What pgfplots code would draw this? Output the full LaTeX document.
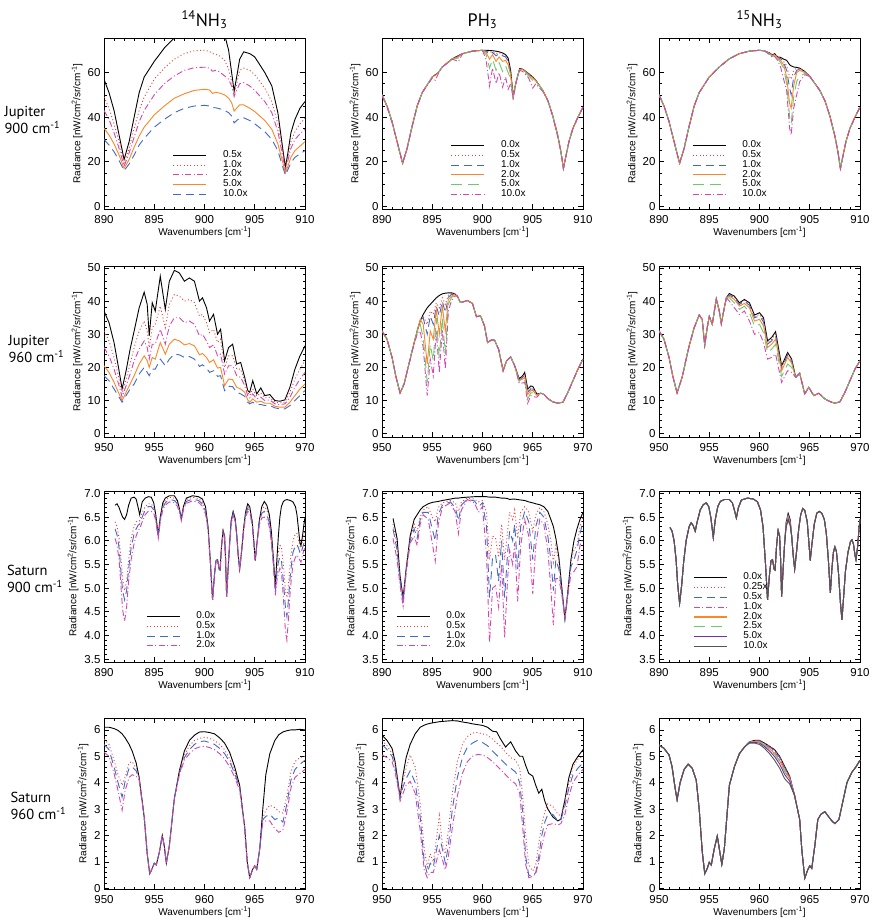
\documentclass[border=0pt]{standalone}
\usepackage{pgfplots}
\pgfplotsset{compat=1.18}
\usepackage{pgfplotstable}
\usepackage{fontspec}
\setmainfont{Liberation Sans}
\newfontfamily\labfont{PT Sans}

\definecolor{cRed}{RGB}{238,60,60}
\definecolor{cBlue}{RGB}{65,105,200}
\definecolor{cMag}{RGB}{215,70,175}
\definecolor{cOrange}{RGB}{250,135,40}
\definecolor{cGreen}{RGB}{110,200,110}
\definecolor{cPurple}{RGB}{110,50,170}
\definecolor{cGray}{RGB}{85,85,85}

\tikzset{
 sK/.style={black,solid,line width=0.9pt},
 sR/.style={cRed,line width=0.9pt,dash pattern=on 1pt off 2.4pt},
 sB/.style={cBlue,line width=0.9pt,dash pattern=on 8pt off 5pt},
 sM/.style={cMag,line width=0.9pt,dash pattern=on 6pt off 2.5pt on 1pt off 2.5pt},
 sO/.style={cOrange,solid,line width=0.9pt},
 sG/.style={cGreen,line width=0.9pt,dash pattern=on 11pt off 6pt},
 sP/.style={cPurple,solid,line width=0.9pt},
 sY/.style={cGray,solid,line width=0.9pt},
}

\pgfplotsset{
 panel/.style={
  scale only axis, width=201pt, height=171pt, anchor=north west,
  tick align=inside, xtick pos=both, ytick pos=both,
  major tick length=5pt, minor tick length=2.5pt,
  every tick/.style={black, line width=0.6pt},
  axis line style={line width=0.8pt},
  /pgf/number format/assume math mode=true,
  tick label style={font=\fontsize{11.5}{13}\selectfont},
  xticklabel style={yshift=-3pt},
  xlabel={Wavenumbers [cm\textsuperscript{-1}]},
  ylabel={Radiance [nW/cm\textsuperscript{2}/sr/cm\textsuperscript{-1}]},
  label style={font=\fontsize{10.7}{12}\selectfont},
  every axis x label/.style={at={(axis description cs:0.5,-0.134)},anchor=center},
  every axis y label/.style={at={(axis description cs:-0.134,0.5)},anchor=center,rotate=90},
  minor x tick num=4,
  legend cell align=left,
  legend image code/.code={\draw[##1, line width=1.1pt] (0pt,0pt) -- (33pt,0pt);},
  legend style={draw=none, fill=none, inner sep=0pt, row sep=0pt, column sep=16pt,
    font=\fontsize{10}{10}\selectfont, anchor=north west,
    nodes={inner sep=0pt, text height=7pt, text depth=2.8pt}},
 },
 xa/.style={xmin=890,xmax=910,xtick={890,895,...,910}},
 xb/.style={xmin=950,xmax=970,xtick={950,955,...,970}},
 r1/.style={ymin=-1.2,ymax=75.5,ytick={0,20,40,60},minor y tick num=3},
 r2/.style={ymin=-1,ymax=50.6,ytick={0,10,...,50},minor y tick num=4},
 r3/.style={ymin=3.44,ymax=7.05,ytick={3.5,4.0,4.5,5.0,5.5,6.0,6.5,7.0},minor y tick num=4,
   yticklabel style={/pgf/number format/.cd,fixed,fixed zerofill,precision=1},
   every axis y label/.append style={at={(axis description cs:-0.154,0.5)}}},
 r4/.style={ymin=-0.03,ymax=6.45,ytick={0,1,...,6},minor y tick num=4,
   every axis y label/.append style={at={(axis description cs:-0.104,0.5)}}},
}

% base + region + base
\newcommand{\brplot}[6]{%
  \addplot[#1, restrict x to domain=800:#5] table[x=x,y=b]{#2};
  \addplot[#1, forget plot] table[x=x,y=#4]{#3};
  \addplot[#1, forget plot, restrict x to domain=#6:1100] table[x=x,y=b]{#2};
}

\begin{document}

% ---------------- Row 1: Jupiter 900 ----------------
\pgfplotstableread{
x k05 k1 k2 k5 k10
890.0 57 49 43 35 30
890.5 51 44 39 32 27.5
891.0 43 37 33 28 24.5
891.5 32 29 26 23 20.5
892.0 21 19.5 18 17 16
892.5 29 26 24 21 19
893.0 40 35 31 26.5 23
893.5 51 43 38 31.5 27.5
894.0 58 49 43 35.5 30.5
895.0 65 57 50 41 35.5
896.0 71 62 55 45 39
897.0 75.5 66 58.5 48.5 42
898.0 79 68.5 61 50.5 44
899.0 81 69.8 62.2 52 45
900.0 82 70 62.4 52.5 45.3
900.5 78 69.5 62 52.2 45
900.8 74.5 68.5 60.6 50.6 44.3
901.1 78 68.2 61 51.2 44.2
901.5 79 67.5 60.3 50.8 43.8
902.0 77 65.5 58.5 50 43
902.4 70 61.5 57 48.5 42
902.7 60 56 54 46.5 40.5
902.95 51.6 49.5 49.5 42.7 37.4
903.2 58 55 52 44 38.5
903.5 66 61 55 45.5 39.5
903.9 69.3 62 55.5 45.5 39.7
904.5 68.5 61 54 44 38.5
905.0 67 59 52 42.5 37
906.0 60 53 47 38.5 33.5
906.7 54 47 42 34.5 30
907.3 42 37 33.5 28 25
907.8 25.4 24 22 19.5 17.5
908.05 17.5 16.5 16 15 14
908.3 24 22 20.5 18 16.5
908.6 33 29 26 22 19.5
909.0 39 33.5 30 25 22
909.5 44 37 32.5 27 23.5
910.0 47 39.5 34.5 29 25
}\tA

\pgfplotstableread{
x p0 p05 p1 p2 p5 p10
890.0 50 50 50 50 50 49.5
890.5 45 45 45 45 45 44.5
891.0 38 38 38 38 38 37.5
891.5 29 29 29 29 29 29
892.05 19.3 19.3 19.3 19.3 19.3 19.3
892.5 26 26 26 26 26 26
893.0 36 36 36 36 36 36
893.5 45 45 45 45 45 45
894.0 51 51 51 51 51 51
895.0 58 58 58 58 58 57.5
895.3 59 59 59 58.7 58.3 56.5
895.6 60 60 60 60 60 59.5
896.0 62.5 62.5 62.5 62.5 62.5 62.5
897.0 66.2 66.2 66.2 66.2 66 66
897.6 67.6 67.5 67.3 67 66.5 65
898.0 68.5 68.5 68.5 68.5 68.5 68.3
899.0 69.6 69.6 69.6 69.6 69.6 69.6
900.0 70 70 70 70 70 69.8
900.35 70 69.8 69.5 69 68 66
900.7 69.9 69 68 66 62 54
901.0 69.8 69.5 69 68 66 62
901.35 69.6 68.5 67.5 65 61 55
901.65 69.3 69 68.5 67 64.5 60
902.0 68.8 68 67.5 65 60.5 53.5
902.3 68 67.5 67 65.5 63 58
902.55 66.5 65.5 65 63.5 60 52.5
902.8 61 60 59.5 59 57 55
903.05 49.5 49.3 49 49 48.7 48.5
903.35 56 56 56 56 56 55.5
903.7 61.8 61.8 61.7 61.5 61.3 61
904.0 61.5 61.5 61.5 61.3 61 60.5
904.6 59.5 59.5 59.3 59 58.5 57.5
905.0 58 58 57.8 57.5 56.5 53
905.3 56.5 56.5 56.5 56.3 56 55
906.0 52 52 52 52 52 51.5
906.5 47.5 47.5 47.5 47.5 47.5 47.5
907.0 40.5 40.5 40.5 40.5 40.5 40
907.5 31.5 31.5 31.5 31.5 31.5 31
907.8 24.5 24.5 24.5 24.5 24.5 24.5
908.05 17 17 17 17 17 17
908.3 22.5 22.5 22.5 22.5 22.5 22.5
908.6 29 29 29 29 29 29
909.0 35 35 35 35 35 35
909.5 40 40 40 40 40 40
910.0 44.5 44.5 44.5 44.5 44.5 44.5
}\tB

\pgfplotstableread{
x b
890.0 50
890.5 45
891.0 38
891.5 29
892.05 19.3
892.5 26
893.0 36
893.5 45
894.0 51
895.0 58
896.0 62.5
897.0 66.2
898.0 68.5
899.0 69.6
900.0 70
900.5 69.7
905.0 58.3
906.0 52
906.5 47.5
907.0 40.5
907.5 31.5
907.8 24.5
908.05 17
908.3 22.5
908.6 29
909.0 35
909.5 40
910.0 44.5
}\tCb
\pgfplotstableread{
x c0 c05 c1 c2 c5 c10
900.5 69.7 69.7 69.7 69.7 69.7 69.7
901.0 68.8 68.8 68.6 68.5 68.3 68
901.3 67.8 67.8 67.6 67.4 67.2 66.8
901.5 68.5 68.4 68.2 68 67.8 67.3
901.8 67 66.9 66.7 66.5 66.2 65.5
902.1 66.8 66.5 66.2 65.5 64.5 62.5
902.4 66 65 64.5 63.5 62 57
902.7 65.5 63 61 58 55 52
903.0 63.5 58 53 46 40 35
903.15 63 57 50 44 37 32
903.4 62.5 61 58 54 49 44
903.7 62.3 62 61 60 56 50
904.0 62 61.8 61.5 61 58.5 56
904.5 60.5 60.4 60.3 60 59.5 59
905.0 58.3 58.3 58.3 58.3 58.3 58.3
}\tCr

% ---------------- Row 2: Jupiter 960 ----------------
\pgfplotstableread{
x k05 k1 k2 k5 k10
950.0 37 31 26 20.5 17.5
950.5 33.5 28 23.5 18.5 16
951.0 27.5 23 19.5 15.5 13.5
951.5 19 16.5 14.5 12 11
951.8 13.5 12 11 10 9.5
952.2 19 16.5 14.5 12.5 11.5
952.6 25.5 21 18 15 13.5
953.0 31 26 22 17.5 15
953.5 38 31 25.5 21 18
954.0 42.7 34 28 23.5 20
954.3 39 31 26 22 18.5
954.5 29.5 26 22.5 20 17.5
954.8 39.5 32 27 23 19.5
955.1 37 33 27 22.5 19.5
955.6 47.5 38.5 31.5 27.5 22.5
956.1 37.5 32 27 24 20.5
956.5 46 39 32.5 27 22.5
957.0 49.3 42 35 28.5 24
957.5 48.5 41.5 35 28 23.8
958.0 46 40 33.5 26.8 23
958.5 47 40.5 34 27.2 23.3
959.0 46 39.5 33 26.5 22.5
959.5 40 35.5 29.5 23.8 20.3
959.8 41 36 30 24.2 20.8
960.2 38 33.5 28 23 19.8
960.5 34 30.5 26 21.5 18.5
960.9 36 31.5 26.8 22.3 19
961.3 30 27.5 23.5 19.8 17.3
961.6 31.5 28.5 24 20 17.5
962.0 22 20 18 14.5 13
962.4 26 23.5 20.5 16.5 14.3
962.8 27 23.5 20.5 16.3 14.2
963.2 21 19.5 17.5 14 12.5
963.6 21.5 19.5 17 13.5 12
964.0 17 16 14.5 12.5 11.3
964.3 13 12.5 11.5 10.2 9.5
964.5 12.5 11.5 10.8 9.5 9
964.8 16 13.5 12 10.5 9.5
965.2 12 11.3 10.5 9.5 8.8
965.6 13.8 12.3 11 9.8 8.8
966.0 11.5 10.8 10 9.2 8.5
966.5 11.8 11 10.2 9.2 8.5
967.0 10 9.5 9 8.3 7.8
967.5 9.8 9.3 8.8 8 7.5
968.0 10.2 9.5 9 8 7.5
968.5 14 12.5 11 9.5 8.5
969.0 19.5 16.5 14 11.5 10
969.5 23.5 19.5 16.5 13.5 11.5
970.0 26.5 22 18.5 15 13
}\tD

\pgfplotstableread{
x p0 p05 p1 p2 p5 p10
950.0 31 31 31 31 31 31
950.5 28.5 28.5 28.5 28.5 28.5 28.5
951.0 23 23 23 23 23 23
951.4 17 17 17 17 17 17
951.8 12.3 12.3 12.3 12.3 12.3 12.3
952.2 15 15 15 15 15 15
952.6 20 20 20 20 20 20
953.0 25 25 25 25 25 25
953.5 31 31 31 31 30.5 30
953.8 34 34 34 34.5 33 31
954.1 36 35.5 35 33 29 26
954.5 38 33 30 21 15.5 11.5
954.8 39 37 35.5 31 27 22.5
955.1 40 36 33 28.5 22 17.5
955.4 41 39.5 38.5 37.5 35 31
955.7 41.7 38 35.5 30 23 18.5
956.0 42.2 41 40 38.5 35 31.5
956.3 42.4 39 36.5 31 24 19.5
956.6 42.5 41.8 41.2 40.5 39 37
956.9 42.5 42.3 42 41.5 41 40
957.2 42.3 42.2 42.1 42 41.8 41.5
957.5 41.5 41.5 41.5 41.5 41.5 41.5
957.8 39.6 39.6 39.6 39.6 39.6 39.6
958.1 39.8 39.8 39.8 39.8 39.8 39.8
958.5 40.2 40.2 40.2 40.2 40.2 40.2
959.0 39.3 39.3 39.3 39.3 39.3 39.3
959.4 35.3 35.3 35.3 35.3 35.3 35.3
959.8 35.6 35.6 35.6 35.6 35.6 35.6
960.2 32.5 32.5 32.5 32.5 32.5 32.5
960.5 27.5 27.5 27.5 27.5 27.5 27.5
960.9 28.3 28.3 28.3 28.3 28.3 28.3
961.2 28.2 28.2 28.2 28.2 28.2 28.2
961.6 25.5 25.5 25.5 25.5 25.5 25.5
962.05 19 19 19 19 19 19
962.4 22 22 22 22 22 22
962.8 23.2 23.2 23.2 23.2 23.2 23.2
963.2 20.5 20.5 20.5 20.5 20.5 20.5
963.65 16.6 16.4 16.2 16 15.6 15.2
964.0 17.5 17.3 17 16.5 16 15.3
964.2 18.5 17.8 17.5 17 16.3 15.5
964.5 13.5 13 12.5 11.8 10.5 9.2
964.8 14.4 13.8 13.5 13 12.3 11.5
965.0 14.3 13.9 13.5 13 12.3 11.2
965.4 12 12 11.8 11.6 11.3 11
965.8 12.2 12.2 12.2 12.2 12.2 12.2
966.1 11.9 11.9 11.9 11.9 11.9 11.9
966.5 10.6 10.6 10.6 10.6 10.6 10.6
967.0 9.6 9.6 9.6 9.6 9.6 9.6
967.5 9.2 9.2 9.2 9.2 9.2 9.2
968.0 9.5 9.5 9.5 9.5 9.5 9.5
968.5 12.5 12.5 12.5 12.5 12.5 12.5
969.0 16 16 16 16 16 16
969.5 19.5 19.5 19.5 19.5 19.5 19.5
970.0 22.5 22.5 22.5 22.5 22.5 22.5
}\tE

\pgfplotstableread{
x b
950.0 31
950.5 28.5
951.0 23
951.4 17
951.8 12.3
952.3 17
952.7 22.5
953.0 26.5
953.5 32
954.0 35.8
954.3 34.5
954.55 26.7
954.8 32
955.0 35.4
955.3 33
955.7 40.7
956.0 37
956.2 33.2
956.5 38
956.7 41
963.6 17
964.0 18.2
964.5 12
964.9 14
965.4 11.5
965.9 12.2
966.5 10.5
967.0 9.7
967.5 9.2
968.0 9.6
968.5 12.5
969.0 16
969.5 19.5
970.0 22
}\tFb
\pgfplotstableread{
x c0 c05 c1 c2 c5 c10
956.7 41 41 41 41 41 41
957.0 42.3 42 41.8 41.5 41 40
957.5 41.5 41.2 41 40.5 39.5 38
958.0 39.5 39.2 39 38.5 37.5 36
958.5 40.5 40.2 40 39.3 38.5 37
959.0 39.5 39 38.7 38 36.5 34
959.5 35.8 35.3 35 34 32.5 30
960.0 36.5 36 35.5 34.5 33 30.5
960.4 35 34.2 33.7 32.5 30.5 27.5
960.8 28 27.3 27 26 24.5 22.5
961.2 29 28.5 28 27 25.5 23
961.6 30.8 30 29.5 28.5 27 24
962.2 20.5 20 19.8 19 17.3 15.5
962.8 24.5 24 23.7 23 21 19
963.2 22.5 22 21.8 21.3 20 18.5
963.6 17 17 17 17 17 17
}\tFr

% ---------------- Row 3: Saturn 900 ----------------
\pgfplotstableread{
x s0 s05 s1 s2
891.1 6.75 6.4 6.25 6.05
891.3 6.78 6.3 6.12 5.9
891.5 6.7 6.05 5.85 5.6
891.7 6.58 5.6 5.3 5.0
891.85 6.5 5.2 4.95 4.55
892.05 6.45 4.95 4.75 4.3
892.25 6.55 5.15 4.95 4.6
892.45 6.75 5.6 5.4 5.15
892.7 6.9 6.05 5.85 5.6
893.0 6.92 6.3 6.15 5.95
893.2 6.88 6.4 6.25 6.1
893.4 6.7 6.42 6.33 6.22
893.55 6.55 6.42 6.35 6.25
893.8 6.82 6.6 6.5 6.4
894.1 6.9 6.72 6.65 6.55
894.4 6.93 6.78 6.72 6.62
894.7 6.92 6.78 6.72 6.62
894.95 6.8 6.7 6.65 6.58
895.15 6.55 6.5 6.47 6.42
895.4 6.12 6.1 6.08 6.05
895.6 6.5 6.47 6.45 6.4
895.85 6.8 6.75 6.7 6.65
896.1 6.9 6.85 6.8 6.75
896.5 6.95 6.92 6.87 6.82
897.0 6.95 6.9 6.85 6.8
897.3 6.85 6.82 6.78 6.73
897.5 6.68 6.66 6.64 6.6
897.7 6.47 6.46 6.45 6.42
897.9 6.72 6.7 6.68 6.65
898.2 6.9 6.87 6.83 6.79
898.8 6.95 6.92 6.88 6.84
899.4 6.93 6.89 6.85 6.81
899.8 6.88 6.82 6.78 6.73
900.1 6.72 6.66 6.62 6.56
900.35 6.3 6.28 6.26 6.24
900.6 5.5 5.5 5.5 5.5
900.8 4.75 4.75 4.75 4.75
901.0 5.3 5.3 5.3 5.3
901.15 5.58 5.58 5.58 5.58
901.3 5.6 5.6 5.6 5.6
901.45 5.4 5.4 5.4 5.4
901.55 5.38 5.38 5.38 5.38
901.7 5.9 5.9 5.9 5.9
901.85 6.22 6.2 6.18 6.15
902.0 6.1 6.1 6.08 6.05
902.1 5.6 5.6 5.6 5.6
902.2 4.82 4.82 4.82 4.82
902.35 5.4 5.4 5.4 5.4
902.5 5.95 5.95 5.93 5.9
902.65 6.42 6.4 6.38 6.35
902.85 6.62 6.6 6.58 6.55
903.05 6.47 6.45 6.43 6.4
903.2 6.15 6.15 6.13 6.1
903.35 5.7 5.7 5.7 5.7
903.5 5.4 5.4 5.4 5.4
903.7 5.8 5.8 5.8 5.78
903.9 6.28 6.26 6.24 6.2
904.1 6.62 6.6 6.56 6.5
904.3 6.78 6.73 6.68 6.62
904.5 6.72 6.68 6.63 6.58
904.75 6.4 6.38 6.36 6.33
904.9 6.0 6.0 6.0 6.0
905.05 5.58 5.58 5.58 5.58
905.2 5.9 5.9 5.9 5.9
905.45 6.42 6.4 6.37 6.33
905.7 6.72 6.66 6.58 6.48
905.95 6.83 6.72 6.62 6.5
906.2 6.75 6.65 6.55 6.45
906.45 6.55 6.45 6.38 6.3
906.65 6.2 6.1 6.02 5.95
906.85 5.65 5.6 5.55 5.5
907.05 5.05 4.98 4.9 4.85
907.2 5.6 5.4 5.3 5.15
907.35 6.1 5.75 5.55 5.3
907.5 6.5 5.9 5.65 5.42
907.65 6.72 5.88 5.6 5.35
907.85 6.83 5.5 5.15 4.8
908.05 6.86 4.95 4.6 4.1
908.2 6.87 4.8 4.4 3.9
908.35 6.86 5.05 4.75 4.35
908.55 6.85 5.6 5.3 5.0
908.8 6.82 6.0 5.75 5.5
909.05 6.72 6.15 5.9 5.65
909.2 6.55 6.15 5.92 5.7
909.35 6.25 6.02 5.85 5.65
909.5 5.95 5.88 5.75 5.58
909.6 5.9 5.85 5.72 5.55
909.75 6.1 6.0 5.85 5.7
909.9 6.35 6.12 5.95 5.8
910.0 6.5 6.2 6.0 5.85
}\tG

\pgfplotstableread{
x q0 q05 q1 q2
891.1 6.47 6.35 6.25 6.05
891.5 6.05 5.9 5.8 5.6
891.8 5.25 5.2 5.15 5.05
892.1 4.8 4.75 4.72 4.62
892.4 5.4 5.4 5.35 5.3
892.8 6.1 6.05 6.0 5.95
893.2 6.45 6.35 6.25 6.1
893.5 6.55 6.2 6.05 5.9
893.8 6.65 6.5 6.45 6.35
894.1 6.72 6.65 6.6 6.55
894.6 6.78 6.72 6.6 6.45
895.0 6.81 6.5 6.25 5.95
895.3 6.82 6.4 6.0 5.57
895.6 6.83 6.7 6.55 6.35
896.0 6.85 6.8 6.75 6.7
896.8 6.88 6.85 6.82 6.8
897.3 6.9 6.8 6.7 6.6
897.6 6.9 6.62 6.42 6.15
897.9 6.91 6.82 6.75 6.65
898.5 6.92 6.9 6.88 6.87
899.2 6.93 6.88 6.84 6.8
899.6 6.93 6.82 6.72 6.6
900.0 6.93 6.85 6.8 6.72
900.4 6.93 6.6 6.3 5.7
900.7 6.92 5.6 4.8 3.85
901.0 6.92 6.1 5.65 5.0
901.3 6.92 6.05 5.7 5.05
901.6 6.91 5.65 5.15 4.6
901.9 6.9 6.35 6.0 5.5
902.2 6.9 5.6 4.8 3.95
902.5 6.89 6.2 5.75 5.2
902.7 6.87 6.6 6.2 5.8
903.0 6.88 6.45 6.0 5.5
903.2 6.88 6.65 6.35 5.95
903.5 6.87 6.05 5.4 4.72
903.8 6.86 6.6 6.3 5.9
904.2 6.85 6.72 6.62 6.45
904.6 6.82 6.6 6.4 6.1
905.0 6.8 6.2 5.6 4.88
905.3 6.78 6.55 6.3 5.9
905.7 6.76 6.7 6.6 6.45
906.1 6.72 6.62 6.5 6.35
906.5 6.62 6.35 6.1 5.8
906.8 6.45 6.0 5.6 5.0
907.05 6.3 5.55 4.95 4.22
907.3 6.05 5.9 5.6 5.2
907.6 5.65 5.55 5.4 5.2
907.9 5.0 4.95 4.9 4.85
908.2 4.35 4.35 4.35 4.35
908.5 4.95 4.95 4.9 4.85
908.8 5.6 5.55 5.45 5.3
909.1 6.0 5.8 5.6 5.35
909.4 6.25 5.9 5.8 5.45
909.7 6.45 6.3 6.15 5.9
910.0 6.6 6.5 6.4 6.05
}\tH

\pgfplotstableread{
x b
891.1 6.28
891.3 6.2
891.5 6.0
891.7 5.6
891.85 5.1
892.05 4.68
892.25 5.05
892.45 5.55
892.7 6.0
893.0 6.3
893.2 6.38
893.4 6.32
893.6 6.2
893.8 6.4
894.1 6.65
894.4 6.76
894.7 6.8
894.95 6.72
895.15 6.5
895.4 6.07
895.6 6.45
895.85 6.72
896.1 6.83
896.5 6.87
897.0 6.87
897.3 6.8
897.5 6.65
897.7 6.48
897.9 6.7
898.2 6.86
898.8 6.9
899.4 6.88
899.8 6.82
900.1 6.65
900.35 6.3
900.6 5.5
900.8 4.75
901.0 5.3
901.15 5.58
901.3 5.6
901.45 5.4
901.55 5.38
901.7 5.9
901.85 6.22
902.0 6.1
902.1 5.6
902.2 4.82
902.35 5.4
902.5 5.95
903.2 6.1
903.35 5.7
903.5 5.4
903.7 5.8
903.9 6.25
904.1 6.55
904.3 6.68
904.5 6.64
904.75 6.4
904.9 6.0
905.05 5.58
905.2 5.9
905.45 6.35
905.7 6.58
905.95 6.62
906.2 6.58
906.45 6.45
906.65 6.15
906.85 5.6
907.05 4.9
907.2 5.4
907.35 5.75
907.5 5.87
907.65 5.78
907.85 5.35
908.05 4.7
908.2 4.33
908.35 4.75
908.55 5.35
908.8 5.75
909.05 5.98
909.2 6.02
909.35 5.93
909.5 5.7
909.6 5.6
909.75 5.85
909.9 6.25
910.0 6.45
}\tIb
\pgfplotstableread{
x s0 s025 s05 s1 s2 s25 s5 s10
902.5 5.95 5.95 5.95 5.95 5.95 5.95 5.95 5.95
902.65 6.38 6.37 6.36 6.35 6.34 6.33 6.31 6.29
902.85 6.58 6.56 6.54 6.52 6.5 6.49 6.46 6.43
903.05 6.45 6.43 6.42 6.4 6.38 6.37 6.34 6.32
903.2 6.1 6.1 6.1 6.1 6.1 6.1 6.1 6.1
}\tIr

% ---------------- Row 4: Saturn 960 ----------------
\pgfplotstableread{
x s0 s05 s1 s2
950.0 6.1 5.65 5.45 5.15
950.5 6.1 5.45 5.25 5.0
951.0 6.05 4.85 4.6 4.35
951.4 5.98 4.3 4.0 3.7
951.8 5.85 3.9 3.45 2.95
952.1 5.7 4.2 4.05 3.7
952.5 5.45 4.75 4.55 4.2
952.8 5.2 4.8 4.6 4.3
953.2 4.75 4.55 4.45 4.25
953.5 4.2 4.15 4.12 4.1
954.0 2.7 2.7 2.7 2.7
954.3 1.3 1.3 1.3 1.3
954.55 0.55 0.55 0.55 0.55
954.8 0.75 0.75 0.75 0.75
955.0 0.95 0.95 0.95 0.95
955.2 0.88 0.88 0.88 0.88
955.5 1.35 1.35 1.35 1.35
955.8 2.0 2.0 2.0 2.0
956.0 1.6 1.6 1.6 1.6
956.2 0.95 0.95 0.95 0.95
956.5 1.6 1.6 1.6 1.6
957.0 3.4 3.4 3.4 3.4
957.5 4.45 4.4 4.35 4.3
958.0 5.2 5.05 4.95 4.85
958.5 5.6 5.4 5.25 5.1
959.0 5.8 5.6 5.45 5.28
959.5 5.92 5.68 5.55 5.35
960.0 5.93 5.72 5.58 5.38
960.5 5.9 5.68 5.52 5.33
961.0 5.85 5.6 5.45 5.25
961.5 5.7 5.45 5.3 5.1
962.0 5.5 5.25 5.1 4.9
962.5 5.15 4.9 4.8 4.6
963.0 4.6 4.45 4.35 4.22
963.5 3.9 3.85 3.8 3.7
964.0 2.3 2.3 2.3 2.3
964.25 1.0 1.0 1.0 1.0
964.5 0.4 0.4 0.4 0.4
964.8 0.72 0.72 0.72 0.72
965.0 0.85 0.85 0.85 0.85
965.2 0.72 0.72 0.72 0.72
965.5 1.5 1.5 1.5 1.5
965.8 3.0 2.65 2.6 2.5
966.1 4.3 2.95 2.72 2.55
966.5 5.1 3.15 2.8 2.55
967.0 5.6 3.05 2.6 2.25
967.4 5.82 2.9 2.67 2.12
967.8 5.92 2.85 2.5 2.2
968.2 5.97 3.5 3.2 2.9
968.6 6.0 4.4 4.1 3.8
969.0 6.0 4.8 4.5 4.2
969.5 6.02 4.95 4.7 4.35
970.0 6.0 5.0 4.85 4.5
}\tJ

\pgfplotstableread{
x q0 q05 q1 q2
950.0 5.8 5.6 5.45 5.05
950.5 5.6 5.4 5.25 4.95
951.0 5.3 5.1 5.0 4.8
951.3 4.8 4.7 4.6 4.4
951.6 4.0 3.95 3.9 3.8
951.8 3.45 3.4 3.45 3.3
952.1 4.3 4.1 3.85 3.6
952.4 4.95 4.55 4.15 3.9
952.8 5.45 5.05 4.45 4.05
953.3 5.85 4.6 4.0 3.6
953.8 6.1 3.2 2.7 2.2
954.2 6.18 1.5 1.0 0.7
954.5 6.22 0.8 0.55 0.4
954.8 6.25 1.3 0.95 0.6
955.1 6.27 1.0 0.8 0.6
955.4 6.29 1.8 1.4 1.0
955.7 6.31 2.75 2.0 1.45
956.0 6.32 1.7 1.5 1.1
956.3 6.33 1.3 0.95 0.7
956.6 6.34 2.2 1.6 1.2
957.0 6.35 3.6 3.0 2.3
957.5 6.34 4.8 4.2 3.5
958.0 6.3 5.45 4.95 4.35
958.5 6.27 5.75 5.35 4.8
959.0 6.23 5.88 5.5 5.0
959.5 6.2 5.9 5.6 5.07
960.0 6.17 5.85 5.52 5.05
960.5 6.1 5.8 5.4 4.95
961.0 5.95 5.65 5.2 4.8
961.4 5.93 5.5 5.05 4.65
961.8 5.65 5.38 4.9 4.5
962.3 5.35 5.15 4.7 4.3
962.8 5.55 4.95 4.55 4.1
963.3 5.2 4.85 4.4 3.95
963.7 5.0 4.55 4.0 3.6
964.0 5.0 3.5 2.9 2.3
964.3 4.65 2.0 1.2 0.9
964.6 4.35 0.9 0.5 0.4
965.0 4.25 0.65 0.45 0.45
965.3 3.9 0.9 0.6 0.55
965.6 3.6 1.7 1.2 1.0
965.9 3.75 2.4 2.0 1.6
966.2 3.3 2.9 2.5 2.1
966.5 3.0 3.2 2.8 2.4
967.0 2.7 3.1 2.8 2.45
967.5 2.55 2.8 2.55 2.4
967.8 2.62 2.75 2.6 2.45
968.2 3.35 3.3 3.1 2.8
968.6 4.2 4.0 3.8 3.5
969.0 4.7 4.6 4.3 4.0
969.5 5.0 4.9 4.55 4.3
970.0 5.25 5.0 4.75 4.5
}\tK

\pgfplotstableread{
x b
950.0 5.42
950.5 5.3
951.0 5.05
951.3 4.6
951.6 3.8
951.8 3.35
952.1 4.0
952.5 4.5
952.9 4.7
953.3 4.55
953.7 4.1
954.0 3.0
954.3 1.4
954.55 0.55
954.8 0.75
955.0 0.98
955.2 0.88
955.5 1.5
955.8 1.98
956.0 1.5
956.25 0.9
956.5 1.5
957.0 3.9
957.5 4.6
958.0 5.1
958.5 5.35
963.5 3.5
964.0 2.6
964.2 1.5
964.5 0.38
964.8 0.7
965.0 0.85
965.2 0.75
965.5 1.6
965.8 2.6
966.1 2.8
966.5 2.9
966.8 2.75
967.2 2.55
967.5 2.45
967.9 2.6
968.3 3.3
968.7 4.0
969.2 4.4
969.6 4.6
970.0 4.85
}\tLb
\pgfplotstableread{
x s0 s025 s05 s1 s2 s25 s5 s10
958.5 5.35 5.35 5.35 5.35 5.35 5.35 5.35 5.35
959.0 5.55 5.55 5.55 5.54 5.53 5.53 5.52 5.5
959.5 5.6 5.59 5.59 5.58 5.56 5.56 5.53 5.5
960.0 5.6 5.59 5.58 5.57 5.55 5.54 5.5 5.45
960.5 5.5 5.49 5.48 5.46 5.43 5.42 5.37 5.3
961.0 5.38 5.37 5.35 5.32 5.28 5.26 5.2 5.1
961.5 5.25 5.23 5.21 5.17 5.11 5.08 4.99 4.85
962.0 5.0 4.98 4.96 4.91 4.84 4.81 4.71 4.55
962.5 4.62 4.6 4.57 4.53 4.46 4.42 4.31 4.15
963.0 4.25 4.24 4.22 4.19 4.15 4.12 4.06 3.95
963.5 3.5 3.5 3.5 3.5 3.5 3.5 3.5 3.5
}\tLr

\begin{tikzpicture}
\useasboundingbox (0pt,0pt) rectangle (872pt,-921pt);

% titles
\node[font=\labfont\fontsize{18}{20}\selectfont, anchor=base] at (204.5pt,-26pt) {\textsuperscript{14}NH\textsubscript{3}};
\node[font=\labfont\fontsize{18}{20}\selectfont, anchor=base] at (482.5pt,-26pt) {PH\textsubscript{3}};
\node[font=\labfont\fontsize{18}{20}\selectfont, anchor=base] at (759.5pt,-26pt) {\textsuperscript{15}NH\textsubscript{3}};

% row labels
\node[font=\labfont\fontsize{14.5}{16.7}\selectfont, anchor=west, align=left] at (1pt,-120pt) {Jupiter\\900 cm\textsuperscript{-1}};
\node[font=\labfont\fontsize{14.5}{16.7}\selectfont, anchor=west, align=left] at (5pt,-349pt) {Jupiter\\960 cm\textsuperscript{-1}};
\node[font=\labfont\fontsize{14.5}{16.7}\selectfont, anchor=west, align=left] at (3.5pt,-579pt) {Saturn\\900 cm\textsuperscript{-1}};
\node[font=\labfont\fontsize{14.5}{16.7}\selectfont, anchor=west, align=left] at (7pt,-806pt) {Saturn\\960 cm\textsuperscript{-1}};

% ===== Row 1 =====
\begin{axis}[panel, xa, r1, at={(104pt,-38pt)},
  legend style={at={(axis description cs:0.342,0.344)}}]
\addplot[sK] table[x=x,y=k05]{\tA};
\addplot[sR] table[x=x,y=k1]{\tA};
\addplot[sM] table[x=x,y=k2]{\tA};
\addplot[sO] table[x=x,y=k5]{\tA};
\addplot[sB] table[x=x,y=k10]{\tA};
\legend{0.5x,1.0x,2.0x,5.0x,10.0x}
\end{axis}

\begin{axis}[panel, xa, r1, at={(382pt,-38pt)},
  legend style={at={(axis description cs:0.342,0.401)}}]
\addplot[sK] table[x=x,y=p0]{\tB};
\addplot[sR] table[x=x,y=p05]{\tB};
\addplot[sB] table[x=x,y=p1]{\tB};
\addplot[sO] table[x=x,y=p2]{\tB};
\addplot[sG] table[x=x,y=p5]{\tB};
\addplot[sM] table[x=x,y=p10]{\tB};
\legend{0.0x,0.5x,1.0x,2.0x,5.0x,10.0x}
\end{axis}

\begin{axis}[panel, xa, r1, at={(659pt,-38pt)},
  legend style={at={(axis description cs:0.164,0.401)}}]
\brplot{sK}{\tCb}{\tCr}{c0}{900.51}{904.99}
\brplot{sR}{\tCb}{\tCr}{c05}{900.51}{904.99}
\brplot{sB}{\tCb}{\tCr}{c1}{900.51}{904.99}
\brplot{sO}{\tCb}{\tCr}{c2}{900.51}{904.99}
\brplot{sG}{\tCb}{\tCr}{c5}{900.51}{904.99}
\brplot{sM}{\tCb}{\tCr}{c10}{900.51}{904.99}
\legend{0.0x,0.5x,1.0x,2.0x,5.0x,10.0x}
\end{axis}

% ===== Row 2 =====
\begin{axis}[panel, xb, r2, at={(104pt,-266pt)}]
\addplot[sK] table[x=x,y=k05]{\tD};
\addplot[sR] table[x=x,y=k1]{\tD};
\addplot[sM] table[x=x,y=k2]{\tD};
\addplot[sO] table[x=x,y=k5]{\tD};
\addplot[sB] table[x=x,y=k10]{\tD};
\end{axis}

\begin{axis}[panel, xb, r2, at={(382pt,-266pt)}]
\addplot[sK] table[x=x,y=p0]{\tE};
\addplot[sR] table[x=x,y=p05]{\tE};
\addplot[sB] table[x=x,y=p1]{\tE};
\addplot[sO] table[x=x,y=p2]{\tE};
\addplot[sG] table[x=x,y=p5]{\tE};
\addplot[sM] table[x=x,y=p10]{\tE};
\end{axis}

\begin{axis}[panel, xb, r2, at={(659pt,-266pt)}]
\brplot{sK}{\tFb}{\tFr}{c0}{956.71}{963.59}
\brplot{sR}{\tFb}{\tFr}{c05}{956.71}{963.59}
\brplot{sB}{\tFb}{\tFr}{c1}{956.71}{963.59}
\brplot{sO}{\tFb}{\tFr}{c2}{956.71}{963.59}
\brplot{sG}{\tFb}{\tFr}{c5}{956.71}{963.59}
\brplot{sM}{\tFb}{\tFr}{c10}{956.71}{963.59}
\end{axis}

% ===== Row 3 =====
\begin{axis}[panel, xa, r3, at={(104pt,-491pt)},
  legend style={at={(axis description cs:0.209,0.296)}}]
\addplot[sK] table[x=x,y=s0]{\tG};
\addplot[sR] table[x=x,y=s05]{\tG};
\addplot[sB] table[x=x,y=s1]{\tG};
\addplot[sM] table[x=x,y=s2]{\tG};
\legend{0.0x,0.5x,1.0x,2.0x}
\end{axis}

\begin{axis}[panel, xa, r3, at={(382pt,-491pt)},
  legend style={at={(axis description cs:0.07,0.296)}}]
\addplot[sK] table[x=x,y=q0]{\tH};
\addplot[sR] table[x=x,y=q05]{\tH};
\addplot[sB] table[x=x,y=q1]{\tH};
\addplot[sM] table[x=x,y=q2]{\tH};
\legend{0.0x,0.5x,1.0x,2.0x}
\end{axis}

\begin{axis}[panel, xa, r3, at={(659pt,-491pt)},
  legend style={at={(axis description cs:0.169,0.522)}}]
\brplot{sK}{\tIb}{\tIr}{s0}{902.51}{903.19}
\brplot{sR}{\tIb}{\tIr}{s025}{902.51}{903.19}
\brplot{sB}{\tIb}{\tIr}{s05}{902.51}{903.19}
\brplot{sM}{\tIb}{\tIr}{s1}{902.51}{903.19}
\brplot{sO}{\tIb}{\tIr}{s2}{902.51}{903.19}
\brplot{sG}{\tIb}{\tIr}{s25}{902.51}{903.19}
\brplot{sP}{\tIb}{\tIr}{s5}{902.51}{903.19}
\brplot{sY}{\tIb}{\tIr}{s10}{902.51}{903.19}
\legend{0.0x,0.25x,0.5x,1.0x,2.0x,2.5x,5.0x,10.0x}
\end{axis}

% ===== Row 4 =====
\begin{axis}[panel, xb, r4, at={(104pt,-718pt)}]
\addplot[sK] table[x=x,y=s0]{\tJ};
\addplot[sR] table[x=x,y=s05]{\tJ};
\addplot[sB] table[x=x,y=s1]{\tJ};
\addplot[sM] table[x=x,y=s2]{\tJ};
\end{axis}

\begin{axis}[panel, xb, r4, at={(382pt,-718pt)}]
\addplot[sK] table[x=x,y=q0]{\tK};
\addplot[sR] table[x=x,y=q05]{\tK};
\addplot[sB] table[x=x,y=q1]{\tK};
\addplot[sM] table[x=x,y=q2]{\tK};
\end{axis}

\begin{axis}[panel, xb, r4, at={(659pt,-718pt)}]
\brplot{sK}{\tLb}{\tLr}{s0}{958.51}{963.49}
\brplot{sR}{\tLb}{\tLr}{s025}{958.51}{963.49}
\brplot{sB}{\tLb}{\tLr}{s05}{958.51}{963.49}
\brplot{sM}{\tLb}{\tLr}{s1}{958.51}{963.49}
\brplot{sO}{\tLb}{\tLr}{s2}{958.51}{963.49}
\brplot{sG}{\tLb}{\tLr}{s25}{958.51}{963.49}
\brplot{sP}{\tLb}{\tLr}{s5}{958.51}{963.49}
\brplot{sY}{\tLb}{\tLr}{s10}{958.51}{963.49}
\end{axis}

\end{tikzpicture}
\end{document}
